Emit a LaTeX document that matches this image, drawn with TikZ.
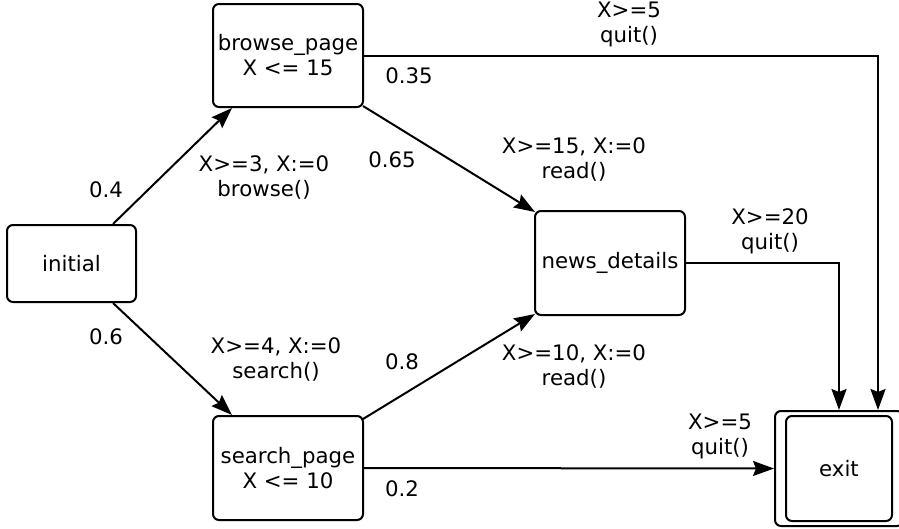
\documentclass[tikz,border=0pt]{standalone}
\usepackage{fontspec}
\setmainfont{DejaVu Sans}
\usetikzlibrary{arrows.meta,positioning}

\tikzset{
  state/.style={draw, rounded corners=6pt, line width=2pt, align=center,
    inner sep=0pt, minimum width=150pt, minimum height=104pt},
  lbl/.style={align=center, inner sep=0pt},
  flow/.style={line width=2pt, -{Stealth[length=21pt,width=15pt,inset=3pt]}},
}

\begin{document}
\begin{tikzpicture}[x=1pt, y=-1pt,
  every node/.style={font=\fontsize{21.3}{25}\selectfont}]
\useasboundingbox (0,0) rectangle (899,528);

% states
\node[state, minimum width=129pt, minimum height=77pt] (initial) at (71.5,263.5) {initial};
\node[state, minimum height=103pt] (browse) at (288,55.5) {browse\_page\\X <= 15};
\node[state] (search) at (288,468) {search\_page\\X <= 10};
\node[state] (news) at (610,263) {news\_details};
\node[state, minimum width=128pt, minimum height=115pt] (exit) at (839,468.5) {};
\node[state, minimum width=106pt, minimum height=105pt] (exitin) at (839,468.5) {exit};

% transitions
\draw[flow] ([xshift=-24pt]initial.north east) -- ([xshift=20pt]browse.south west);
\draw[flow] ([xshift=-24pt]initial.south east) -- ([xshift=20pt]search.north west);
\draw[flow] ([shift={(-1pt,2pt)}]browse.south east) -- ([shift={(1pt,-2pt)}]news.north west);
\draw[flow] ([shift={(-1pt,-4pt)}]search.north east) -- ([shift={(1pt,2pt)}]news.south west);
\draw[flow] (browse.east) -| ([xshift=39pt]exit.north);
\draw[flow] (news.east) -| (exit.north);
\draw[flow] (search.east) -- (exit.west);

% labels
\node[lbl] (p04) at (106,190) {0.4};
\node[lbl] (g1) at (264,177.5) {X>=3, X:=0\\browse()};
\node[lbl] (p06) at (106,337) {0.6};
\node[lbl] (g2) at (276,359.5) {X>=4, X:=0\\search()};
\node[lbl] (p035) at (409,76) {0.35};
\node[lbl] (p065) at (392,160) {0.65};
\node[lbl] (g3) at (574,159.5) {X>=15, X:=0\\read()};
\node[lbl] (g4) at (629,24.5) {X>=5\\quit()};
\node[lbl] (g5) at (770,231) {X>=20\\quit()};
\node[lbl] (p08) at (402,362) {0.8};
\node[lbl] (g6) at (574,366) {X>=10, X:=0\\read()};
\node[lbl] (g7) at (720,436) {X>=5\\quit()};
\node[lbl] (p02) at (402,489) {0.2};
\end{tikzpicture}
\end{document}
